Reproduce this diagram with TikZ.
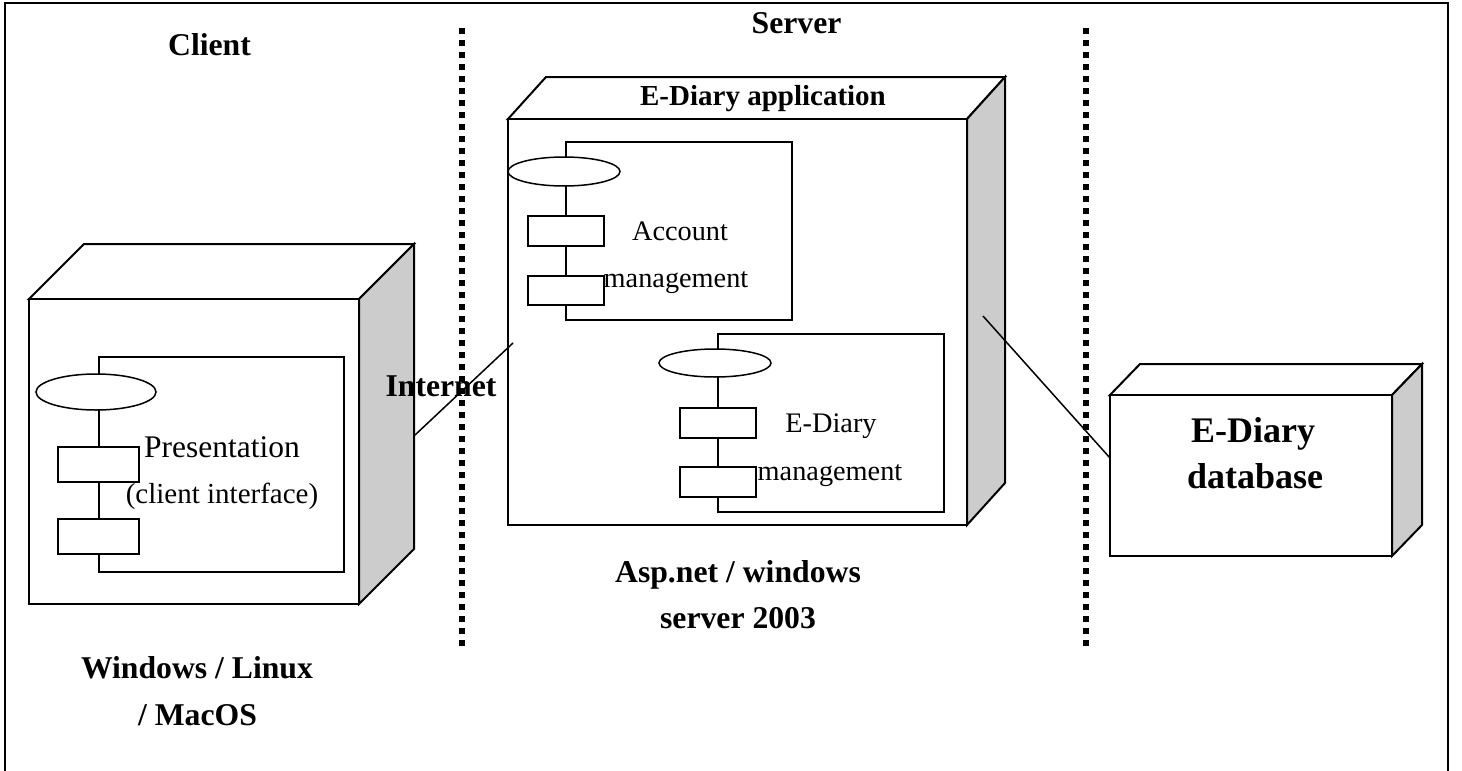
\documentclass[tikz,border=0pt]{standalone}
\usepackage{fontspec}
\setmainfont{Liberation Serif}
\usetikzlibrary{calc,shapes.geometric}
\definecolor{sidegray}{RGB}{204,204,204}
\newcommand\fsz[1]{\fontsize{#1}{#1}\selectfont}
% draws the top and side faces of a 3D node behind its front face
\newcommand\depthfaces[3]{%
  \filldraw[box, fill=white] (#1.north west) -- ++(#2,-#3) -- ($(#1.north east)+(#2,-#3)$) -- (#1.north east) -- cycle;
  \filldraw[box, fill=sidegray] (#1.north east) -- ($(#1.north east)+(#2,-#3)$) -- ($(#1.south east)+(#2,-#3)$) -- (#1.south east) -- cycle;
}
\tikzset{
  box/.style={draw, line width=2pt, line join=miter},
  front/.style={box, fill=white, rectangle, inner sep=0pt, outer sep=0pt, anchor=north west},
  comp/.style={draw, line width=1.5pt, rectangle, inner sep=0pt, outer sep=0pt, anchor=north west},
  iface/.style={draw, fill=white, line width=1.5pt, ellipse, inner sep=0pt, outer sep=0pt},
  port/.style={draw, fill=white, line width=1.5pt, rectangle, inner sep=0pt, outer sep=0pt, anchor=north west},
  sep/.style={line width=6pt, dash pattern=on 6pt off 6pt},
  link/.style={line width=1.5pt},
  title/.style={anchor=base, inner sep=0pt, font=\fsz{31.7}\bfseries},
  lbl/.style={anchor=base, inner sep=0pt},
}
\begin{document}
\begin{tikzpicture}[x=1pt, y=-1pt]
\useasboundingbox (0,0) rectangle (1462,771);
\fill[white] (0,0) rectangle (1462,771);

% outer frame
\draw[line width=2pt] (5,790) -- (5,3) -- (1448,3) -- (1448,790);

% tier separators
\draw[sep] (462,28) -- (462,646);
\draw[sep] (1086,28) -- (1086,646);

% tier titles
\node[title] (tclient) at (209.5,55) {Client};
\node[title] (tserver) at (796.5,33) {Server};

% ---- client node ----
\node[front, minimum width=330pt, minimum height=305pt] (client) at (29,299) {};
\depthfaces{client}{55}{55}
\node[front, minimum width=330pt, minimum height=305pt] at (29,299) {};
\node[comp, minimum width=245pt, minimum height=215pt] (pres) at (99,357) {};
\node[iface, minimum width=120pt, minimum height=36pt] (presi) at (96,392) {};
\node[port, minimum width=81pt, minimum height=35pt] (presp1) at (58,447) {};
\node[port, minimum width=81pt, minimum height=35pt] (presp2) at (58,519) {};
\node[lbl, font=\fsz{31.5}] (prest1) at (222,457) {Presentation};
\node[lbl, font=\fsz{29}] (prest2) at (222,503) {(client interface)};
\node[title] (tos1) at (197,678) {Windows / Linux};
\node[title] (tos2) at (197.5,725) {/ MacOS};

% ---- server node ----
\node[front, minimum width=459pt, minimum height=406pt] (server) at (508,119) {};
\depthfaces{server}{38}{42}
\node[front, minimum width=459pt, minimum height=406pt] at (508,119) {};
\node[title, font=\fsz{29}\bfseries] (tapp) at (763,105) {E-Diary application};

\node[comp, minimum width=226pt, minimum height=178pt] (acc) at (566,142) {};
\node[iface, minimum width=112pt, minimum height=29pt] (acci) at (564,171.5) {};
\node[port, minimum width=76pt, minimum height=30pt] (accp1) at (528,216) {};
\node[port, minimum width=76pt, minimum height=29pt] (accp2) at (528,276) {};
\node[lbl, font=\fsz{28.3}] (acct1) at (680,240) {Account};
\node[lbl, font=\fsz{28.3}] (acct2) at (676,287) {management};

\node[comp, minimum width=226pt, minimum height=178pt] (dia) at (718,334) {};
\node[iface, minimum width=112pt, minimum height=28pt] (diai) at (715,363) {};
\node[port, minimum width=76pt, minimum height=30pt] (diap1) at (680,408) {};
\node[port, minimum width=76pt, minimum height=30pt] (diap2) at (680,467) {};
\node[lbl, font=\fsz{28.3}] (diat1) at (831,432) {E-Diary};
\node[lbl, font=\fsz{28.3}] (diat2) at (830,480) {management};

\node[title] (tplat1) at (738,582) {Asp.net / windows};
\node[title] (tplat2) at (738,628) {server 2003};

% ---- database node ----
\node[front, minimum width=282pt, minimum height=161pt] (db) at (1110,395) {};
\depthfaces{db}{30}{31}
\node[front, minimum width=282pt, minimum height=161pt] at (1110,395) {};
\node[title, font=\fsz{36}\bfseries] (dbt1) at (1253,442) {E-Diary};
\node[title, font=\fsz{36}\bfseries] (dbt2) at (1255,488) {database};

% ---- communication paths ----
\coordinate (clientend) at (415,435);
\coordinate (serverin) at (513,343);
\coordinate (serverout) at (983,316);
\coordinate (dbend) at (1110,458);
\node[title] (tnet) at (441,396) {Internet};
\draw[link] (clientend) -- (serverin);
\draw[link] (serverout) -- (dbend);
\end{tikzpicture}
\end{document}
